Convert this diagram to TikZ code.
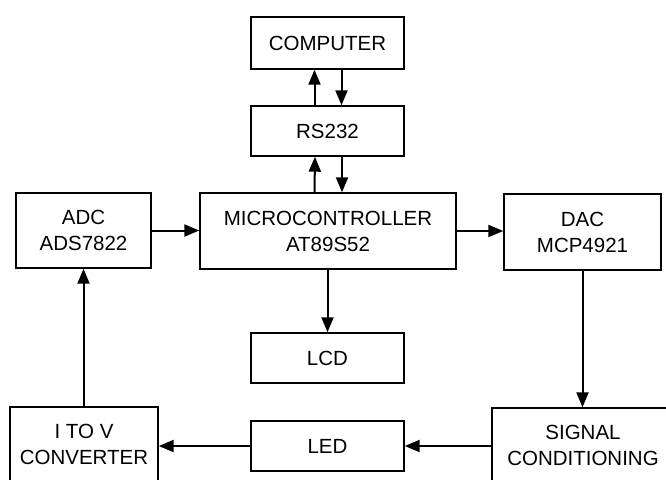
\documentclass[tikz,border=0pt]{standalone}
\usepackage{fontspec}
\setmainfont{Liberation Sans}
\usetikzlibrary{arrows.meta}
\tikzset{
  blk/.style={draw=black, line width=1.4pt, rectangle, inner sep=0pt, align=center,
    font=\fontsize{20.5}{26}\selectfont},
  arr/.style={draw=black, line width=2pt, -{Triangle[length=15pt,width=12pt]}}
}
\begin{document}
\begin{tikzpicture}[x=1pt,y=-1pt]
\useasboundingbox (0,0) rectangle (666,479);
\clip (0,0) rectangle (666,479);
\node[blk, minimum width=153pt, minimum height=52pt] (comp) at (327.5,43) {COMPUTER};
\node[blk, minimum width=153pt, minimum height=50pt] (rs) at (327.5,131) {RS232};
\node[blk, minimum width=256pt, minimum height=76pt] (mc) at (328,231) {MICROCONTROLLER\\AT89S52};
\node[blk, minimum width=135pt, minimum height=75pt] (adc) at (83.5,230.5) {ADC\\ADS7822};
\node[blk, minimum width=157pt, minimum height=76pt] (dac) at (582.5,232) {DAC\\MCP4921};
\node[blk, minimum width=153pt, minimum height=50pt] (lcd) at (327.5,358) {LCD};
\node[blk, minimum width=153pt, minimum height=50pt] (led) at (327.5,446) {LED};
\node[blk, minimum width=148pt, minimum height=74pt] (itov) at (84,444) {I TO V\\CONVERTER};
\node[blk, minimum width=182pt, minimum height=74pt] (sig) at (583,445) {SIGNAL\\CONDITIONING};

\draw[arr] ([xshift=-13pt]rs.north) -- ([xshift=-13pt]comp.south);
\draw[arr] ([xshift=14pt]comp.south) -- ([xshift=14pt]rs.north);
\draw[arr] ([xshift=-13.5pt]mc.north) -- ([xshift=-12.5pt]rs.south);
\draw[arr] ([xshift=14.5pt]rs.south) -- ([xshift=14pt]mc.north);
\draw[arr] (adc.east) -- (adc.east -| mc.west);
\draw[arr] (mc.east) -- (mc.east -| dac.west);
\draw[arr] (mc.south -| lcd.north) -- (lcd.north);
\draw[arr] (dac.south) -- (dac.south |- sig.north);
\draw[arr] (sig.west |- led.center) -- (led.east);
\draw[arr] (led.west) -- (led.west -| itov.east);
\draw[arr] (itov.north -| adc.south) -- (adc.south);
\end{tikzpicture}
\end{document}
